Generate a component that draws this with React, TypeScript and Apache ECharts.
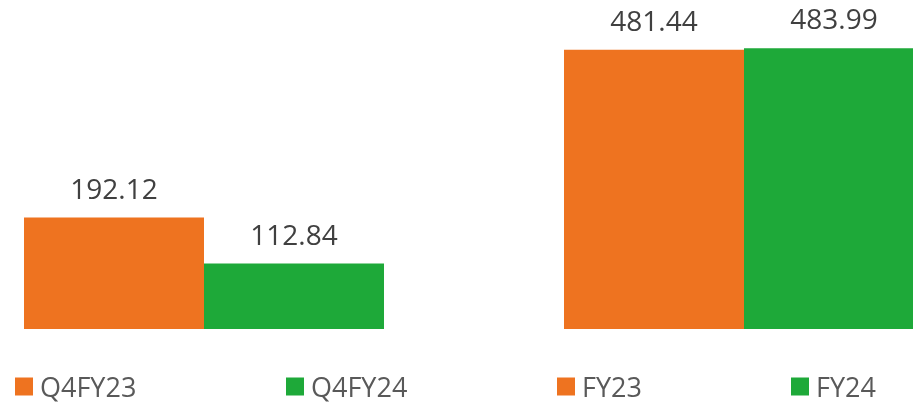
import React, { useEffect, useRef } from "react";
import * as echarts from "echarts";

const seriesNames = ["Q4FY23", "Q4FY24", "FY23", "FY24"];
const seriesValues = [192.12, 112.84, 481.44, 483.99];
const seriesGroup = [0, 0, 1, 1];
const seriesColors = ["#EE7320", "#1EA939", "#EE7320", "#1EA939"];
const legendLeft = [15, 286, 557, 791];

export default function App() {
  const ref = useRef<HTMLDivElement>(null);
  useEffect(() => {
    if (!ref.current) return;
    const chart = echarts.init(ref.current, null, { renderer: "svg" });
    const font = "'Open Sans', sans-serif";
    chart.setOption({
      animation: false,
      grid: [
        { left: 24, width: 360, top: 39, bottom: 75 },
        { left: 564, width: 360, top: 39, bottom: 75 },
      ],
      xAxis: [0, 1].map((i) => ({
        type: "category",
        gridIndex: i,
        data: [""],
        show: false,
      })),
      yAxis: [0, 1].map((i) => ({
        type: "value",
        gridIndex: i,
        min: 0,
        max: 500,
        show: false,
      })),
      legend: seriesNames.map((n, i) => ({
        data: [n],
        left: legendLeft[i],
        top: 373,
        padding: 0,
        icon: "rect",
        itemWidth: 18,
        itemHeight: 18,
        itemGap: 0,
        selectedMode: false,
        textStyle: {
          fontFamily: font,
          fontSize: 27,
          lineHeight: 27,
          color: "#595959",
          padding: [0, 0, 0, 2],
        },
      })),
      series: seriesNames.map((n, i) => ({
        name: n,
        type: "bar",
        xAxisIndex: seriesGroup[i],
        yAxisIndex: seriesGroup[i],
        data: [seriesValues[i]],
        barWidth: 180,
        barGap: "0%",
        itemStyle: { color: seriesColors[i] },
        label: {
          show: true,
          position: "top",
          distance: 16,
          fontFamily: font,
          fontSize: 28,
          color: "#404040",
          formatter: (p: any) => p.value.toFixed(2),
        },
      })),
    });
    return () => chart.dispose();
  }, []);
  return (
    <div
      ref={ref}
      style={{ position: "fixed", left: 0, top: 0, width: 924, height: 404 }}
    />
  );
}
